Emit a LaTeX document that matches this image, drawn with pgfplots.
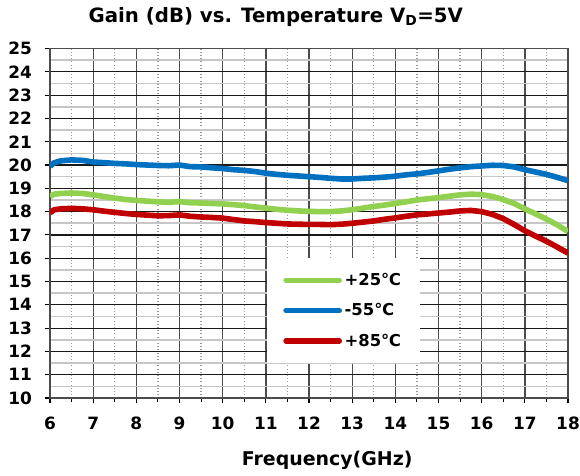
\documentclass[border=0pt]{standalone}
\usepackage{pgfplots}
\pgfplotsset{compat=1.18}
\usepackage{fontspec}
\setmainfont{DejaVu Sans}
\definecolor{cgreen}{HTML}{92D050}
\definecolor{cblue}{HTML}{0070C0}
\definecolor{cred}{HTML}{C00000}

\pgfplotstableread{
f g
6.0 18.65
6.1 18.75
6.25 18.78
6.5 18.8
6.75 18.78
7.0 18.72
7.25 18.65
7.5 18.58
7.75 18.52
8.0 18.48
8.25 18.45
8.5 18.42
8.75 18.4
9.0 18.43
9.25 18.38
9.5 18.37
9.75 18.35
10.0 18.33
10.25 18.3
10.5 18.26
10.75 18.2
11.0 18.15
11.25 18.1
11.5 18.06
11.75 18.03
12.0 18.01
12.25 18.0
12.5 18.0
12.75 18.03
13.0 18.08
13.25 18.15
13.5 18.22
13.75 18.28
14.0 18.35
14.25 18.42
14.5 18.5
14.75 18.55
15.0 18.6
15.25 18.66
15.5 18.72
15.75 18.75
16.0 18.73
16.25 18.65
16.5 18.52
16.75 18.35
17.0 18.12
17.25 17.9
17.5 17.68
17.75 17.43
18.0 17.15
}\tgreen

\pgfplotstableread{
f g
6.0 19.95
6.1 20.1
6.25 20.18
6.5 20.22
6.75 20.2
7.0 20.13
7.25 20.1
7.5 20.07
7.75 20.05
8.0 20.02
8.25 20.0
8.5 19.98
8.75 19.97
9.0 20.0
9.25 19.93
9.5 19.92
9.75 19.88
10.0 19.85
10.25 19.8
10.5 19.77
10.75 19.72
11.0 19.65
11.25 19.6
11.5 19.56
11.75 19.53
12.0 19.5
12.25 19.47
12.5 19.43
12.75 19.4
13.0 19.4
13.25 19.43
13.5 19.45
13.75 19.48
14.0 19.52
14.25 19.58
14.5 19.62
14.75 19.68
15.0 19.75
15.25 19.82
15.5 19.88
15.75 19.93
16.0 19.96
16.25 19.99
16.5 19.98
16.75 19.92
17.0 19.8
17.25 19.7
17.5 19.6
17.75 19.47
18.0 19.33
}\tblue

\pgfplotstableread{
f g
6.0 17.95
6.1 18.08
6.25 18.12
6.5 18.14
6.75 18.12
7.0 18.08
7.25 18.02
7.5 17.97
7.75 17.92
8.0 17.88
8.25 17.85
8.5 17.82
8.75 17.83
9.0 17.86
9.25 17.8
9.5 17.77
9.75 17.75
10.0 17.72
10.25 17.66
10.5 17.6
10.75 17.57
11.0 17.53
11.25 17.5
11.5 17.47
11.75 17.46
12.0 17.45
12.25 17.45
12.5 17.44
12.75 17.46
13.0 17.5
13.25 17.55
13.5 17.6
13.75 17.67
14.0 17.73
14.25 17.8
14.5 17.86
14.75 17.9
15.0 17.94
15.25 17.98
15.5 18.03
15.75 18.05
16.0 18.0
16.25 17.88
16.5 17.7
16.75 17.45
17.0 17.18
17.25 16.95
17.5 16.73
17.75 16.48
18.0 16.22
}\tred

\begin{document}
\begin{tikzpicture}
\begin{axis}[
  at={(0pt,0pt)}, anchor=south west,
  scale only axis, width=388.5pt, height=262.1pt,
  xmin=6, xmax=18, ymin=10, ymax=25,
  xtick={6,...,18}, ytick={10,...,25},
  minor x tick num=1, minor y tick num=1,
  grid=both,
  major x grid style={black!70, line width=1pt},
  minor x grid style={black!40, dotted, line width=0.9pt},
  major y grid style={black!90, line width=0.9pt},
  minor y grid style={black!22, line width=1.2pt},
  minor y tick style={draw=none},
  axis line style={black!70, line width=1.1pt},
  tick align=outside, xtick pos=bottom, ytick pos=left,
  major tick length=4pt, minor tick length=3pt,
  tick style={black, line width=0.8pt},
  /pgf/number format/assume math mode=true,
  ticklabel style={font=\fontsize{12.7}{15}\selectfont\bfseries},
  xticklabel style={yshift=-7pt},
  yticklabel style={xshift=-6pt},
  title={Gain (dB) vs. Temperature V\textsubscript{D}=5V},
  title style={at={(axis description cs:0.436,1.0515)}, anchor=base, font=\fontsize{14.8}{17}\selectfont\bfseries},
  xlabel={Frequency(GHz)},
  xlabel style={at={(axis description cs:0.535,-0.177)}, anchor=center, font=\fontsize{14.2}{17}\selectfont\bfseries},
  legend style={at={(axis description cs:0.419,0.40)}, anchor=north west, draw=none, fill=white,
    font=\fontsize{12.3}{15}\selectfont\bfseries, inner xsep=12pt, inner ysep=9pt, row sep=8pt,
    legend cell align=left},
  legend image code/.code={\draw[#1, line width=4pt, line cap=round] (0pt,0pt) -- (40pt,0pt);},
]
\addplot[cgreen, line width=4.2pt] table[x=f,y=g]{\tgreen};
\addlegendentry{+25℃}
\addplot[cblue, line width=4.2pt] table[x=f,y=g]{\tblue};
\addlegendentry{-55℃}
\addplot[cred, line width=4.2pt] table[x=f,y=g]{\tred};
\addlegendentry{+85℃}
\end{axis}
\pgfresetboundingbox
\path (-37.5pt,-57.75pt) rectangle (397.5pt,298.5pt);
\end{tikzpicture}
\end{document}
